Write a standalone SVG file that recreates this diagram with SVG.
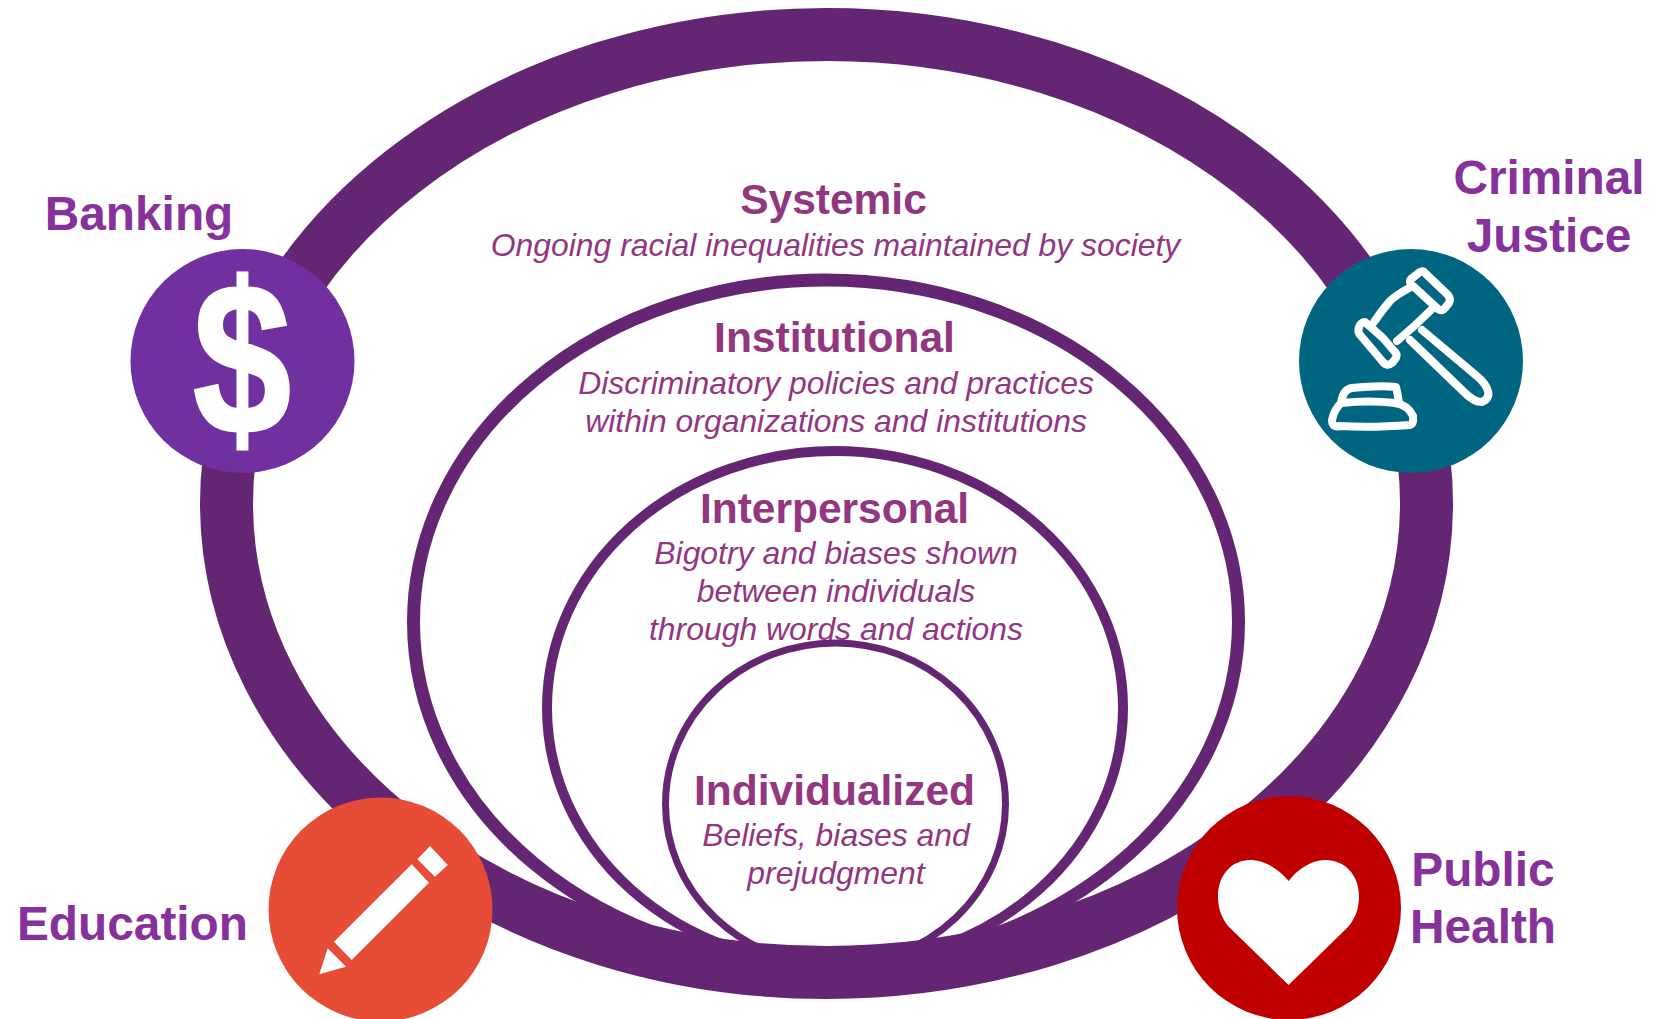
<svg xmlns="http://www.w3.org/2000/svg" width="1653" height="1019" viewBox="0 0 1653 1019">
<style>
.ring{fill:#fff;stroke:#642672}
.lab{font-family:"Liberation Sans",Arial,sans-serif;font-weight:700;font-size:47.8px;fill:#87329b;text-anchor:middle}
.ttl{font-family:"Liberation Sans",Arial,sans-serif;font-weight:700;font-size:42.5px;fill:#92367f;text-anchor:middle}
.sub{font-family:"Liberation Sans",Arial,sans-serif;font-style:italic;font-size:31.9px;fill:#92367f;text-anchor:middle}
.ic{fill:#fff}
.ln{fill:none;stroke:#fff;stroke-width:8;stroke-linejoin:round;stroke-linecap:round}
</style>
<rect width="1653" height="1019" fill="#fff"/>
<g id="rings">
<g id="ring-institutional"><ellipse class="ring" cx="826" cy="622" rx="412.5" ry="342" stroke-width="13"/></g>
<g id="ring-interpersonal"><ellipse class="ring" cx="835" cy="708" rx="288" ry="257" stroke-width="10"/></g>
<g id="ring-individualized"><ellipse class="ring" cx="835.5" cy="804" rx="170" ry="161" stroke-width="7"/></g>
<g id="ring-systemic"><ellipse cx="826.5" cy="503.5" rx="600" ry="469" fill="none" stroke="#642672" stroke-width="53"/></g>
</g>
<g id="text-systemic">
<text class="ttl" x="833.500" y="214">Systemic</text>
<text class="sub" x="835.500" y="255.500">Ongoing racial inequalities maintained by society</text>
</g>
<g id="text-institutional">
<text class="ttl" x="834.500" y="352">Institutional</text>
<text class="sub" x="836" y="393.500">Discriminatory policies and practices</text>
<text class="sub" x="836" y="431.500">within organizations and institutions</text>
</g>
<g id="text-interpersonal">
<text class="ttl" x="834.500" y="523">Interpersonal</text>
<text class="sub" x="836" y="563.500">Bigotry and biases shown</text>
<text class="sub" x="836" y="601.500">between individuals</text>
<text class="sub" x="836" y="639.500">through words and actions</text>
</g>
<g id="text-individualized">
<text class="ttl" x="834.500" y="805">Individualized</text>
<text class="sub" x="836" y="845.500">Beliefs, biases and</text>
<text class="sub" x="836" y="884">prejudgment</text>
</g>
<g id="banking">
<circle cx="242.500" cy="361" r="112" fill="#7030a0"/>
<text transform="translate(242 433) scale(0.82 1)" x="0" y="0" font-family="'Liberation Sans',Arial,sans-serif" font-weight="700" font-size="215" fill="#fff" stroke="#fff" stroke-width="3" text-anchor="middle">$</text>
<text class="lab" x="139" y="230">Banking</text>
</g>
<g id="criminal-justice">
<circle cx="1411" cy="361" r="112" fill="#006580"/>
<path class="ln" d="M1420 272Q1423 270 1426 274L1448 295Q1451 299 1449 303L1445 308Q1442 312 1438 309L1413 286Q1408 282 1411 279Z"/>
<path class="ln" d="M1365 322Q1361 322 1359 327Q1357 332 1361 336L1383 362Q1387 367 1392 363L1396 358Q1398 354 1394 351L1383 338Z"/>
<path class="ln" d="M1411 287Q1396 295 1390 301Q1382 310 1374 322M1431 310Q1415 326 1397 341"/>
<path class="ln" d="M1410 340L1465 393Q1474 402 1482 402Q1490 398 1488 391Q1486 384 1478 377L1422 330"/>
<path class="ln" d="M1341 403Q1343 389 1352 388Q1380 385 1396 387Q1398 395 1399 403M1341 403Q1370 400 1395 403Q1408 405 1413 416Q1414 424 1410 425Q1370 428 1340 426Q1332 428 1332 420Q1334 410 1341 403"/>
<text class="lab" x="1549" y="194">Criminal</text>
<text class="lab" x="1549" y="252">Justice</text>
</g>
<g id="education">
<circle cx="380.500" cy="909.500" r="112" fill="#e74c37"/>
<path class="ic" d="M411.700 864.300L429 882.700L351.700 960L334 941.700ZM430 846L447.700 865L435 876.700L417.300 859.300ZM327.700 948.300L346 966.700L319.300 974.300Z"/>
<text class="lab" x="132.500" y="940">Education</text>
</g>
<g id="public-health">
<circle cx="1289" cy="908" r="112" fill="#c00000"/>
<path class="ic" d="M1288.600 881C1280 870 1265 860 1250 860C1232 860 1218 875 1218 896C1218 909 1222 919 1229 927L1288.600 985L1348 927C1355 919 1359 909 1359 896C1359 875 1345 860 1325 860C1311 860 1297 870 1288.600 881Z"/>
<text class="lab" x="1483" y="886">Public</text>
<text class="lab" x="1483" y="943">Health</text>
</g>
</svg>
